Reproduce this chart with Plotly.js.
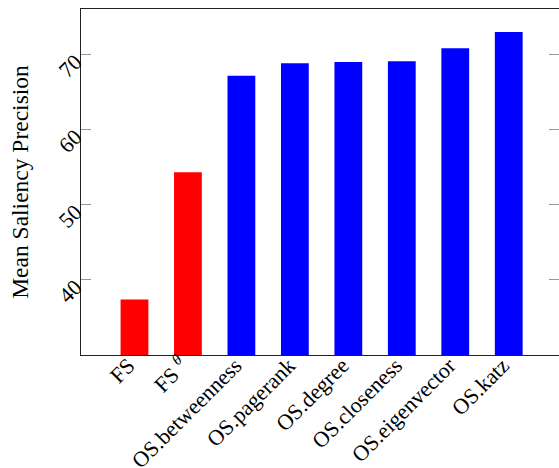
<!DOCTYPE html>
<html>
<head>
<meta charset="utf-8">
<script src="https://cdn.plot.ly/plotly-3.0.1.min.js"></script>
<style>html,body{margin:0;padding:0;background:#fff;}#chart{width:559px;height:468px;}</style>
</head>
<body>
<div id="chart"></div>
<script>
var categories = ["FS", "FS <sup><i>θ</i></sup>", "OS.betweenness", "OS.pagerank", "OS.degree", "OS.closeness", "OS.eigenvector", "OS.katz"];
var precision = [37.3, 54.25, 67.1, 68.76, 68.93, 69.03, 70.76, 72.93];
var barColors = ["#ff0000", "#ff0000", "#0000ff", "#0000ff", "#0000ff", "#0000ff", "#0000ff", "#0000ff"];
var yTicks = [40, 50, 60, 70];

var trace = {
  type: "bar",
  x: categories.map(function(c, i){ return i; }),
  y: precision,
  width: 0.52,
  marker: {color: barColors, line: {width: 0}},
  hoverinfo: "skip"
};

var serif = "Liberation Serif, Times New Roman, serif";
var layout = {
  width: 559, height: 468,
  margin: {l: 81, r: 0, t: 9, b: 113},
  paper_bgcolor: "#fff", plot_bgcolor: "#fff",
  showlegend: false,
  font: {family: serif, color: "#000", size: 22},
  xaxis: {
    type: "linear",
    range: [-1, 7.94],
    tickvals: categories.map(function(c, i){ return i; }),
    ticktext: categories,
    tickangle: -45,
    ticks: "",
    ticklabelstandoff: -12,
    ticklabelshift: -6,
    showgrid: false, zeroline: false,
    showline: true, mirror: true, linecolor: "#222", linewidth: 1,
    tickfont: {family: serif, size: 22, color: "#000"}
  },
  yaxis: {
    range: [29.9, 76],
    tickvals: yTicks,
    ticktext: yTicks.map(String),
    tickangle: -45,
    ticks: "inside", ticklen: 10, tickcolor: "#999", tickwidth: 1,
    ticklabelshift: 5,
    showgrid: false, zeroline: false,
    showline: true, mirror: "ticks", linecolor: "#222", linewidth: 1,
    tickfont: {family: serif, size: 22, color: "#000"},
    title: {text: "Mean Saliency Precision", font: {family: serif, size: 23.5, color: "#000"}, standoff: 18}
  }
};

Plotly.newPlot("chart", [trace], layout, {staticPlot: true, displayModeBar: false});
</script>
</body>
</html>
